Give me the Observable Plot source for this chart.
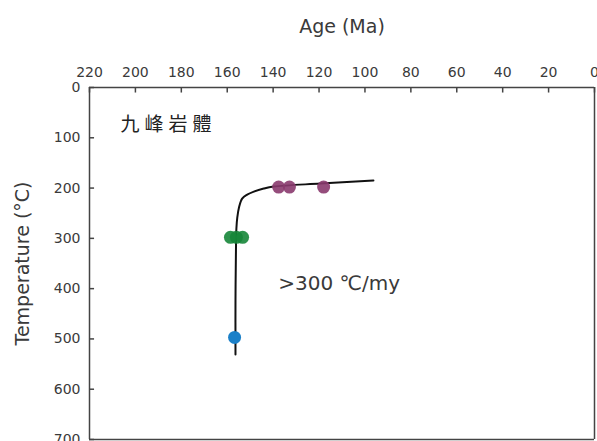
<!DOCTYPE html>
<html>
<head>
<meta charset="utf-8">
<script src="https://cdn.jsdelivr.net/npm/d3@7"></script>
<script src="https://cdn.jsdelivr.net/npm/@observablehq/plot@0.6"></script>
<style>
  html, body { margin: 0; padding: 0; background: #fff; }
  #chart svg { display: block; }
</style>
</head>
<body>
<div id="chart"></div>
<script>
// Tick values
const ageTicks = [220, 200, 180, 160, 140, 120, 100, 80, 60, 40, 20, 0];
const tempTicks = [0, 100, 200, 300, 400, 500, 600, 700];

// Sample groups (age Ma, temperature °C)
const purpleAge = [137.6, 132.9, 118.0];
const purpleTemp = [198, 198, 198];
const greenAge = [158.6, 156.0, 153.3];
const greenTemp = [298, 298, 298];
const blueAge = [156.8];
const blueTemp = [497];

// Cooling path
const curveAge = [156.4, 156.4, 156.2, 156.0, 155.6, 154.9, 153.5, 151.3, 148.4, 144.1, 139.7, 119.4, 96.3];
const curveTemp = [531, 423, 324, 280, 258, 239, 221, 213, 207, 201, 197, 191, 185];

// Labels
const titleText = "九峰岩體";
const rateText = ">300 ℃/my";
const titleAt = {age: 206.5, temp: 75};
const rateAt = {age: 137.8, temp: 390};

const zip = (xs, ys) => xs.map((x, i) => ({age: x, temp: ys[i]}));
const purple = zip(purpleAge, purpleTemp);
const green = zip(greenAge, greenTemp);
const blue = zip(blueAge, blueTemp);
const curve = zip(curveAge, curveTemp);

const axisColor = "#444";
const textColor = "#3a3a3a";

const chart = Plot.plot({
  width: 597,
  height: 441,
  marginTop: 87,
  marginLeft: 89,
  marginRight: 3,
  marginBottom: 2,
  style: {fontFamily: "DejaVu Sans", fontSize: "14px", color: textColor, background: "#fff"},
  x: {domain: [220, 0], label: null, axis: null},
  y: {domain: [0, 700], reverse: true, label: null, axis: null},
  marks: [
    // axis lines
    Plot.ruleY([0], {stroke: axisColor, strokeWidth: 1.5}),
    Plot.ruleY([700], {stroke: axisColor, strokeWidth: 1.5}),
    Plot.ruleX([220], {stroke: axisColor, strokeWidth: 1.5}),
    Plot.ruleX([0], {stroke: axisColor, strokeWidth: 1.5}),
    // inward ticks
    Plot.ruleX(ageTicks, {y1: 0, y2: 11, stroke: axisColor, strokeWidth: 1.5}),
    Plot.ruleY(tempTicks, {x1: 220, x2: 217.8, stroke: axisColor, strokeWidth: 1.5}),
    // tick labels
    Plot.axisX({anchor: "top", ticks: ageTicks, tickSize: 0, tickPadding: 11, fontSize: 14, fill: textColor,
      label: "Age (Ma)", labelAnchor: "center", labelOffset: 68, labelArrow: "none"}),
    Plot.axisY({anchor: "left", ticks: tempTicks, tickSize: 0, tickPadding: 9, fontSize: 14, fill: textColor,
      label: "Temperature (°C)", labelAnchor: "center", labelOffset: 74, labelArrow: "none"}),
    // curve
    Plot.line(curve, {x: "age", y: "temp", stroke: "#111", strokeWidth: 2, curve: "catmull-rom"}),
    // points
    Plot.dot(purple, {x: "age", y: "temp", r: 6.5, fill: "#8a3a6e", fillOpacity: 0.9}),
    Plot.dot(green, {x: "age", y: "temp", r: 6.5, fill: "#168638", fillOpacity: 0.9}),
    Plot.dot(blue, {x: "age", y: "temp", r: 6.5, fill: "#1b80c8"}),
    // annotations
    Plot.text([titleAt], {x: "age", y: "temp", text: () => titleText, textAnchor: "start",
      fontSize: 19, fill: "#222", fontFamily: "Noto Sans CJK TC"}),
    Plot.text([rateAt], {x: "age", y: "temp", text: () => rateText, textAnchor: "start",
      fontSize: 20, fill: textColor})
  ]
});
document.getElementById("chart").appendChild(chart);
// style axis labels bigger
chart.querySelectorAll("g[aria-label='x-axis label'] text, g[aria-label='y-axis label'] text").forEach(t => {
  t.style.fontSize = "19px";
});
chart.querySelectorAll("g[aria-label='text'] text").forEach(t => {
  if (t.textContent === titleText) t.style.letterSpacing = "5px";
});
</script>
</body>
</html>
